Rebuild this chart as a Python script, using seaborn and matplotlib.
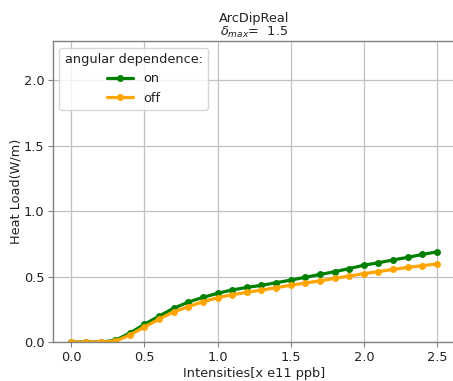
import numpy as np
import pandas as pd
import matplotlib
matplotlib.use("Agg")
import matplotlib.pyplot as plt
import seaborn as sns

# Bunch intensity scan (x 1e11 ppb)
intensities = [0.0, 0.1, 0.2, 0.3, 0.4, 0.5, 0.6, 0.7, 0.8, 0.9, 1.0, 1.1, 1.2,
               1.3, 1.4, 1.5, 1.6, 1.7, 1.8, 1.9, 2.0, 2.1, 2.2, 2.3, 2.4, 2.5]

# Heat load (W/m) with and without angular dependence of the SEY
heat_on = [0.0, 0.0, 0.0, 0.012, 0.068, 0.135, 0.198, 0.258, 0.305, 0.341,
           0.372, 0.398, 0.417, 0.433, 0.453, 0.473, 0.495, 0.516, 0.537,
           0.561, 0.587, 0.606, 0.627, 0.647, 0.669, 0.689]
heat_off = [0.0, 0.0, 0.0, 0.006, 0.053, 0.115, 0.175, 0.230, 0.270, 0.308,
            0.338, 0.362, 0.379, 0.397, 0.415, 0.434, 0.451, 0.467, 0.486,
            0.504, 0.522, 0.538, 0.555, 0.570, 0.584, 0.596]

series_labels = ["on", "off"]
series_colors = ["green", "orange"]

df = pd.DataFrame({
    "intensity": intensities * 2,
    "heat": heat_on + heat_off,
    "angular": ["on"] * len(intensities) + ["off"] * len(intensities),
})

FS = 9.3

sns.set_style("whitegrid", {
    "axes.edgecolor": "#808080",
    "grid.color": "#c0c0c0",
    "xtick.bottom": True,
    "ytick.left": True,
    "xtick.color": "#808080",
    "ytick.color": "#808080",
    "text.color": "#222222",
    "axes.labelcolor": "#222222",
})
plt.rcParams["font.family"] = ["DejaVu Sans"]
plt.rcParams["font.size"] = FS
plt.rcParams["grid.linewidth"] = 0.9

fig = plt.figure(figsize=(4.53, 3.81), dpi=100)
ax = fig.add_axes([0.117, 0.1024, 0.888, 0.7896])

sns.lineplot(data=df, x="intensity", y="heat", hue="angular",
             hue_order=series_labels, palette=series_colors,
             marker="o", markersize=5, markeredgewidth=0, linewidth=2.3,
             ax=ax)

ax.set_xlim(-0.125, 2.625)
ax.set_ylim(0, 2.3)
ax.set_xticks([0.0, 0.5, 1.0, 1.5, 2.0, 2.5])
ax.set_yticks([0.0, 0.5, 1.0, 1.5, 2.0])
ax.tick_params(axis="both", labelsize=FS, labelcolor="#222222",
               length=3.3, width=0.8, pad=3)
for s in ax.spines.values():
    s.set_linewidth(1.0)

ax.set_xlabel("Intensities[x e11 ppb]", fontsize=FS, labelpad=2)
ax.set_ylabel("Heat Load(W/m)", fontsize=FS, labelpad=1)
ax.set_title("ArcDipReal\n$\\delta_{max}$=  1.5", fontsize=FS, pad=4,
             linespacing=1.0)

handles, labels = ax.get_legend_handles_labels()
for h in handles:
    h.set_linewidth(2.3)
    h.set_markersize(5)
ax.legend(handles, labels, title="angular dependence:", loc="upper left",
          fontsize=FS, title_fontsize=FS, frameon=True, fancybox=True,
          handlelength=2.0, borderaxespad=0.5)

fig.savefig("out.png", dpi=100)
